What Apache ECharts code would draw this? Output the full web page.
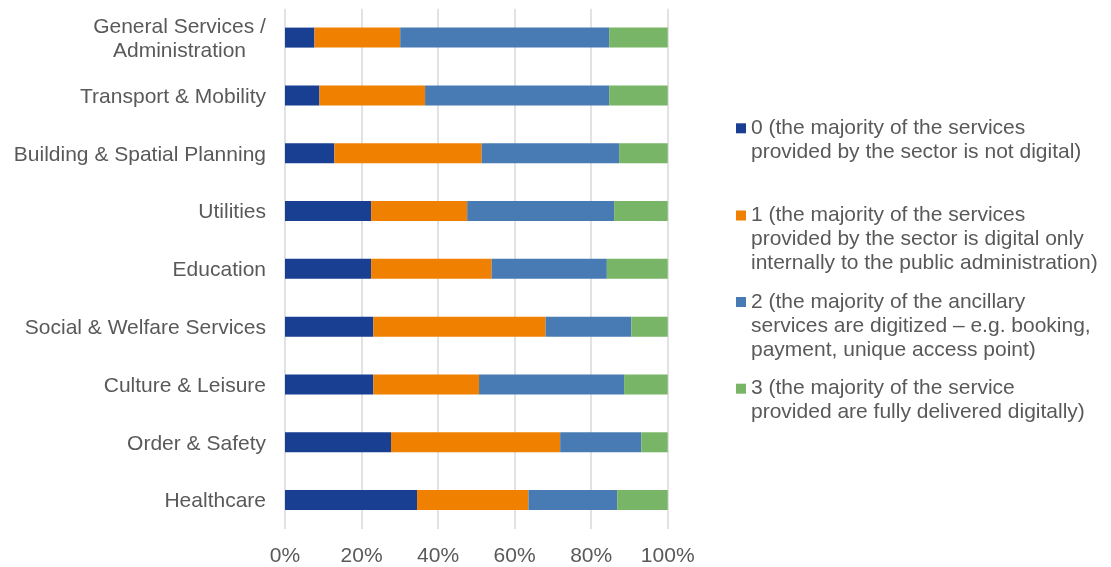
<!DOCTYPE html>
<html>
<head>
<meta charset="utf-8">
<title>Digitalisation level by sector</title>
<script src="https://cdn.jsdelivr.net/npm/echarts@6/dist/echarts.min.js"></script>
<style>
  html, body { margin: 0; padding: 0; background: #ffffff; }
  #chart { width: 1111px; height: 567px; }
</style>
</head>
<body>
<div id="chart"></div>
<script>
// Sectors, listed top to bottom
const sectors = [
  'General Services /\nAdministration',
  'Transport & Mobility',
  'Building & Spatial Planning',
  'Utilities',
  'Education',
  'Social & Welfare Services',
  'Culture & Leisure',
  'Order & Safety',
  'Healthcare'
];

// Share of sectors (%) at each digitalisation level
const level0 = [7.7, 9.0, 12.9, 22.5, 22.5, 23.1, 23.1, 27.7, 34.5];
const level1 = [22.4, 27.6, 38.5, 25.1, 31.5, 45.0, 27.6, 44.2, 29.1];
const level2 = [54.6, 48.1, 35.9, 38.4, 30.1, 22.4, 37.9, 21.2, 23.2];
const level3 = [15.3, 15.3, 12.7, 14.0, 15.9, 9.5, 11.4, 6.9, 13.2];

// Legend wording, one entry per line
const legendLines = [
  ['0 (the majority of the services', 'provided by the sector is not digital)'],
  ['1 (the majority of the services', 'provided by the sector is digital only', 'internally to the public administration)'],
  ['2 (the majority of the ancillary', 'services are digitized \u2013 e.g. booking,', 'payment, unique access point)'],
  ['3 (the majority of the service', 'provided are fully delivered digitally)']
];

const xTicks = [0, 20, 40, 60, 80, 100];

const colors = ['#183F92', '#F08000', '#487BB4', '#78B566'];
const levels = [level0, level1, level2, level3];
const names = legendLines.map(l => l.join(' '));

const FONT = 'Liberation Sans, Arial, sans-serif';
const FS = 21;
const TEXT = '#595959';
const LH = 24;

// widest line of the wrapped category label, so its lines can be centred on each other
const ctx = document.createElement('canvas').getContext('2d');
ctx.font = FS + 'px ' + FONT;
function textWidth(s) { return Math.ceil(ctx.measureText(s).width); }
const wrapWidth = Math.max(...sectors.filter(s => s.includes('\n'))
  .flatMap(s => s.split('\n')).map(textWidth));

const chart = echarts.init(document.getElementById('chart'), null, { renderer: 'canvas' });

// icon centre y for each legend entry
const legendIconY = [128.3, 215.5, 302, 388.7];

// The legend centres its text on the icon; leading blank lines put the
// first line of each entry level with its icon instead.
const legends = legendLines.map((lines, i) => {
  const n = lines.length;
  const boxH = (2 * n - 1) * LH;
  const above = boxH / 2 - 5;        // text box reaching above the 10px icon
  return {
    orient: 'vertical',
    left: 736,
    top: legendIconY[i] - 5 - above,
    padding: 0,
    itemWidth: 10,
    itemHeight: 10,
    itemGap: 0,
    icon: 'rect',
    selectedMode: false,
    data: [names[i]],
    formatter: () => '\n'.repeat(n - 1) + lines.join('\n'),
    textStyle: {
      fontFamily: FONT,
      fontSize: FS,
      color: TEXT,
      lineHeight: LH
    }
  };
});

const option = {
  animation: false,
  backgroundColor: '#ffffff',
  textStyle: { fontFamily: FONT },
  legend: legends,
  grid: { left: 285, right: 443.3, top: 8.7, bottom: 37, containLabel: false },
  xAxis: {
    type: 'value',
    min: 0,
    max: 100,
    interval: 20,
    axisLine: { show: false },
    axisTick: { show: false },
    splitLine: { show: true, lineStyle: { color: '#d9d9d9', width: 1.5 } },
    axisLabel: {
      formatter: v => xTicks.includes(v) ? v + '%' : '',
      fontFamily: FONT,
      fontSize: FS,
      color: TEXT,
      margin: 17
    }
  },
  yAxis: {
    type: 'category',
    data: sectors,
    inverse: true,
    axisLine: { show: false },
    axisTick: { show: false },
    axisLabel: {
      fontFamily: FONT,
      fontSize: FS,
      color: TEXT,
      margin: 19,
      lineHeight: 23.5,
      padding: [3, 0, 0, 0],
      formatter: v => {
        const parts = v.split('\n');
        if (parts.length === 1) return v;
        return parts.map(p => '{c|' + p + '}').join('\n');
      },
      rich: {
        c: {
          fontFamily: FONT,
          fontSize: FS,
          color: TEXT,
          lineHeight: 23.5,
          align: 'center',
          width: wrapWidth
        }
      }
    }
  },
  series: levels.map((vals, i) => ({
    name: names[i],
    type: 'bar',
    stack: 'share',
    barWidth: 20,
    itemStyle: { color: colors[i] },
    emphasis: { disabled: true },
    data: vals
  }))
};

chart.setOption(option);
</script>
</body>
</html>
